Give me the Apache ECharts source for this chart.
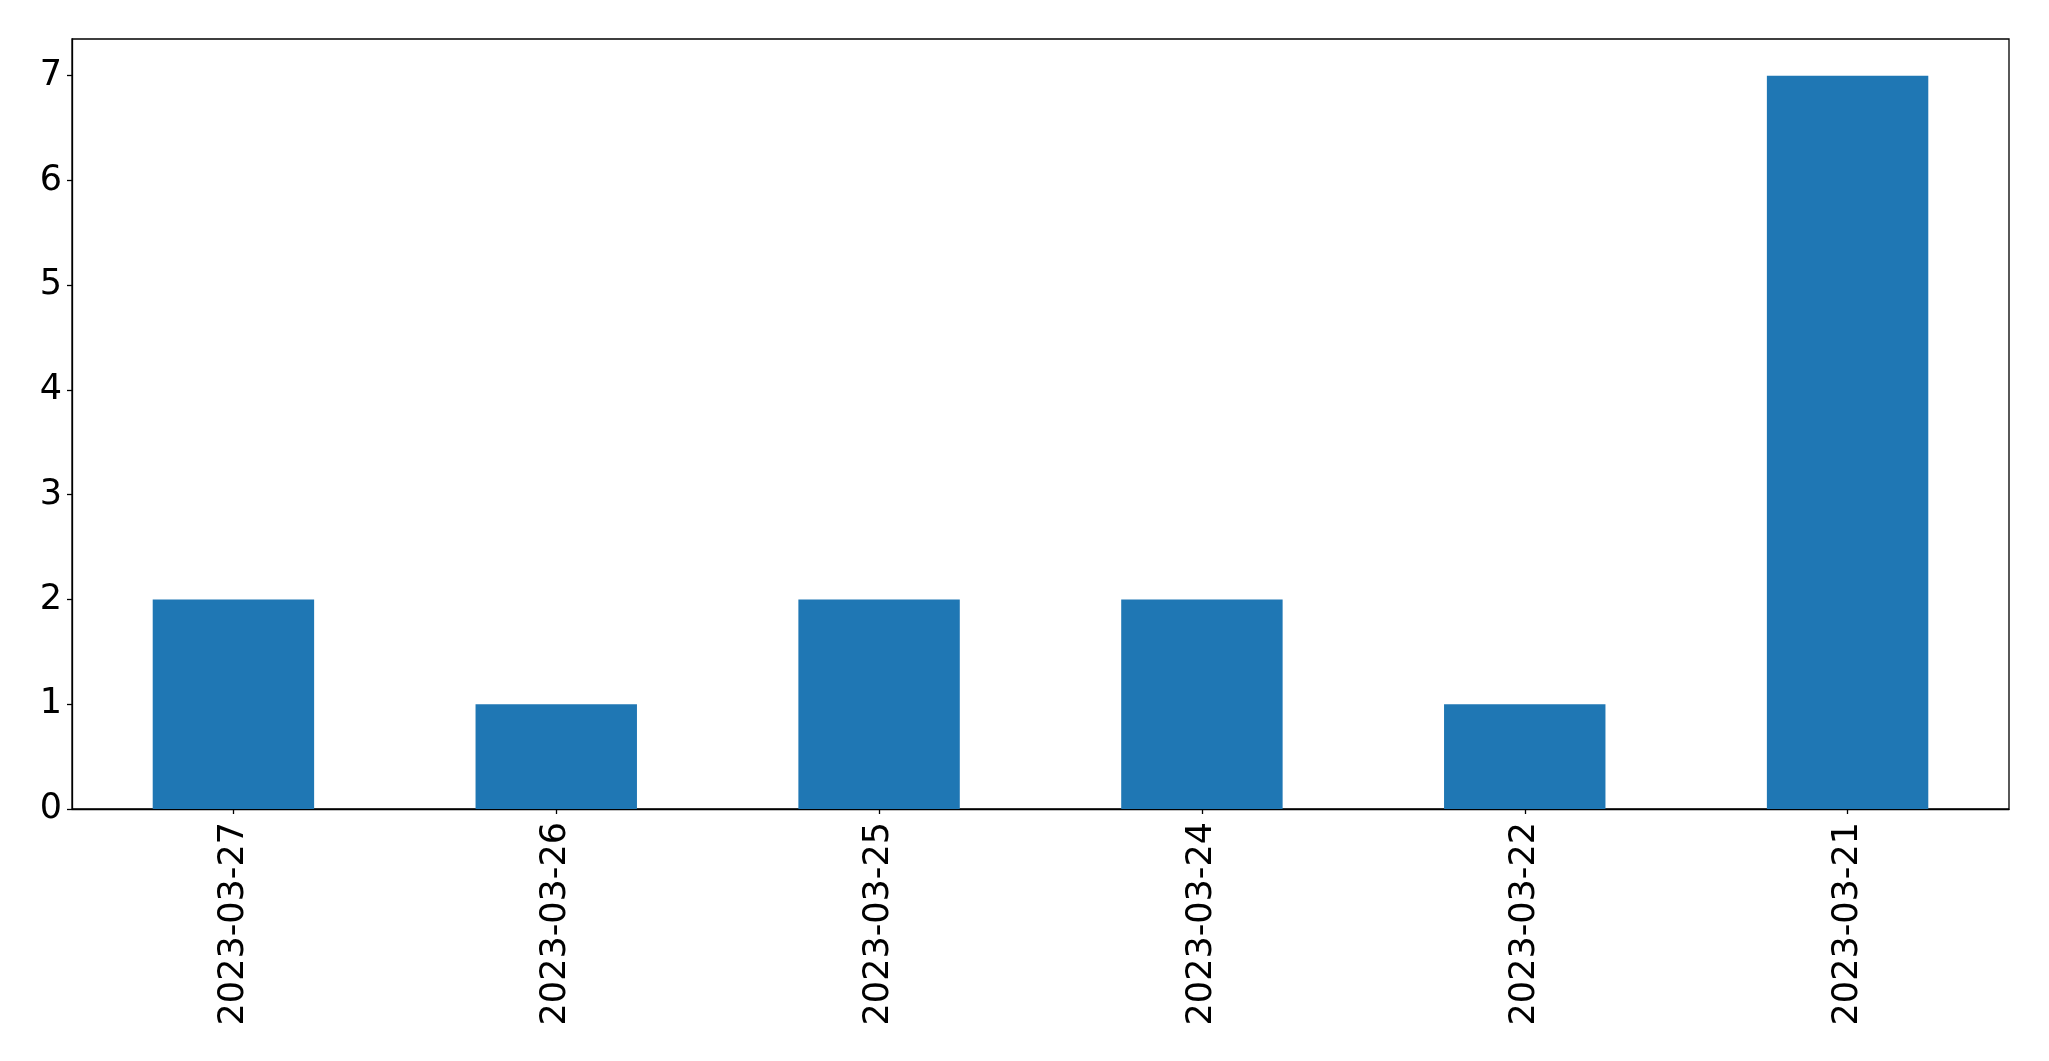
<!DOCTYPE html>
<html>
<head>
<meta charset="utf-8">
<script src="https://cdn.jsdelivr.net/npm/echarts@6/dist/echarts.min.js"></script>
<style>html,body{margin:0;padding:0;background:#fff;}#c{width:2049px;height:1061px;}</style>
</head>
<body>
<div id="c"></div>
<script>
const categories = ["2023-03-27","2023-03-26","2023-03-25","2023-03-24","2023-03-22","2023-03-21"];
const counts = [2, 1, 2, 2, 1, 7];
const yTicks = [0, 1, 2, 3, 4, 5, 6, 7];

const chart = echarts.init(document.getElementById('c'), null, {renderer: 'canvas'});
const font = 'DejaVu Sans';
chart.setOption({
  animation: false,
  backgroundColor: '#fff',
  grid: {left: 72, top: 39, right: 40, bottom: 252, show: true, borderColor: '#000', borderWidth: 1.3, containLabel: false},
  xAxis: {
    type: 'category',
    data: categories,
    boundaryGap: true,
    axisLine: {show: true, lineStyle: {color: '#000', width: 1.3}},
    axisTick: {show: true, alignWithLabel: true, length: 5, lineStyle: {color: '#000', width: 1.3}},
    axisLabel: {rotate: 90, color: '#000', fontFamily: font, fontSize: 35, margin: 13, interval: 0},
    splitLine: {show: false}
  },
  yAxis: {
    type: 'value',
    min: 0,
    max: 7.35,
    axisLine: {show: true, lineStyle: {color: '#000', width: 1.3}},
    axisTick: {show: true, length: 5, customValues: yTicks, lineStyle: {color: '#000', width: 1.3}},
    axisLabel: {color: '#000', fontFamily: font, fontSize: 35, margin: 10, customValues: yTicks},
    splitLine: {show: false}
  },
  series: [{
    type: 'bar',
    data: counts,
    barWidth: '50%',
    itemStyle: {color: '#1f77b4'}
  }]
});
</script>
</body>
</html>
